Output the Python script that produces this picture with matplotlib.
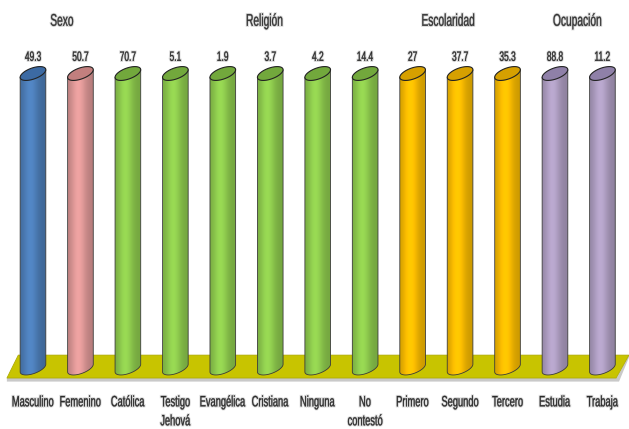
import numpy as np
import matplotlib.pyplot as plt
from matplotlib.patches import Polygon, PathPatch
from matplotlib.colors import to_rgb
from matplotlib.textpath import TextPath
from matplotlib.font_manager import FontProperties
from matplotlib.transforms import Affine2D
import matplotlib.patheffects as pe

# Datos
categorias = ['Masculino', 'Femenino', 'Católica', 'Testigo\nJehová', 'Evangélica',
              'Cristiana', 'Ninguna', 'No\ncontestó', 'Primero', 'Segundo', 'Tercero',
              'Estudia', 'Trabaja']
valores = [49.3, 50.7, 70.7, 5.1, 1.9, 3.7, 4.2, 14.4, 27, 37.7, 35.3, 88.8, 11.2]
alturas = [100] * 13  # en la gráfica original todos los cilindros tienen la misma altura
titulos = ['Sexo', 'Religión', 'Escolaridad', 'Ocupación']
titulos_x = [0.61, 4.88, 8.75, 11.47]

colores = ['#4f81bd', '#e49c9b', '#92d050', '#ffc000', '#b3a2c7']
colores_tapa = ['#3c6aa3', '#c27f7e', '#72a83c', '#d6a000', '#8f80a8']
# Masculino y Femenino tienen color propio, el resto va por grupo
idx_color = [0, 1, 2, 2, 2, 2, 2, 2, 3, 3, 3, 4, 4]

fig = plt.figure(figsize=(6.29, 4.29), dpi=100)
ax = fig.add_axes([0, 0, 1, 1])
ax.set_xlim(-0.695, 12.56)
ax.set_ylim(-20.7, 124.96)
ax.axis('off')

# pixeles por unidad de datos
ppx = 629 / (12.56 + 0.695)
ppy = 429 / (124.96 + 20.7)

# Elipse inclinada (en pixeles)
a, b, th = 13.5, 5.5, np.radians(20)
def elipse(phi):
    ex = a * np.cos(phi) * np.cos(th) - b * np.sin(phi) * np.sin(th)
    ey = a * np.cos(phi) * np.sin(th) + b * np.sin(phi) * np.cos(th)
    return ex / ppx, ey / ppy

phi_d = np.arctan2(-b * np.sin(th), a * np.cos(th))
phi_i = phi_d + np.pi

fuente = FontProperties(family='Liberation Sans')
halo = [pe.withStroke(linewidth=1.6, foreground='#dedede')]

def texto(x, y, s, tam, sx, color='#2a2a2a'):
    # texto angosto como en la imagen original (base del texto en y)
    px, py = ax.transData.transform((x, y))
    for k, linea in enumerate(s.split('\n')):
        tp = TextPath((0, 0), linea, size=tam, prop=fuente)
        ext = tp.get_extents()
        cx = (ext.x0 + ext.x1) / 2 * sx
        tr = Affine2D().scale(sx, 1).translate(px - cx, py - k * 19)
        p = PathPatch(tp, transform=tr, facecolor=color, edgecolor=color, lw=0.25,
                      path_effects=halo, zorder=7)
        fig.patches.append(p)
        p.set_figure(fig)

# Piso
sombra = Polygon([(-0.55, -3.4), (12.3, -3.4), (12.56, 4.4), (12.56, 3.6), (12.35, -4.6), (-0.55, -4.6)],
                 closed=True, facecolor='#c9c9c9', edgecolor='none', zorder=0)
ax.add_patch(sombra)
piso = Polygon([(-0.31, 4.4), (12.56, 4.4), (12.56, 4.4), (12.29, -3.4), (-0.55, -3.4)],
               closed=True, facecolor='#c8c400', edgecolor='#a9a600', lw=0.5, zorder=1)
ax.add_patch(piso)

t = np.linspace(0, 1, 64)
brillo = 0.8 + 0.25 * np.exp(-((t - 0.4) / 0.3) ** 2)

for i, (alto, val) in enumerate(zip(alturas, valores)):
    base = np.array(to_rgb(colores[idx_color[i]]))
    grad = np.clip(base[None, :] * brillo[:, None], 0, 1)

    xi, yi = elipse(phi_i)
    xd, yd = elipse(phi_d)
    arco = np.linspace(phi_i, phi_d + 2 * np.pi, 50)
    ax_, ay_ = elipse(arco)
    verts = [(i + xi, alto + yi)] + list(zip(i + ax_, ay_)) + [(i + xd, alto + yd)]
    cuerpo = Polygon(verts, closed=True, facecolor='none', edgecolor='#3a3a3a', lw=0.6, zorder=4)
    ax.add_patch(cuerpo)
    im = ax.imshow(grad[None, :, :], extent=[i + xi, i + xd, ay_.min(), alto + yd],
                   aspect='auto', interpolation='bilinear', zorder=3)
    im.set_clip_path(cuerpo)

    todo = np.linspace(0, 2 * np.pi, 80)
    tx_, ty_ = elipse(todo)
    tapa = Polygon(list(zip(i + tx_, alto + ty_)), closed=True,
                   facecolor=colores_tapa[idx_color[i]], edgecolor='#222222', lw=0.8, zorder=5)
    ax.add_patch(tapa)

    texto(i, alto + 4.3, f'{val:g}', 13.5, 0.62)
    texto(i, -13, categorias[i], 15, 0.62)

for tit, tx in zip(titulos, titulos_x):
    texto(tx, 116.2, tit, 17, 0.6, color='#333333')

fig.savefig('out.png', dpi=100)
